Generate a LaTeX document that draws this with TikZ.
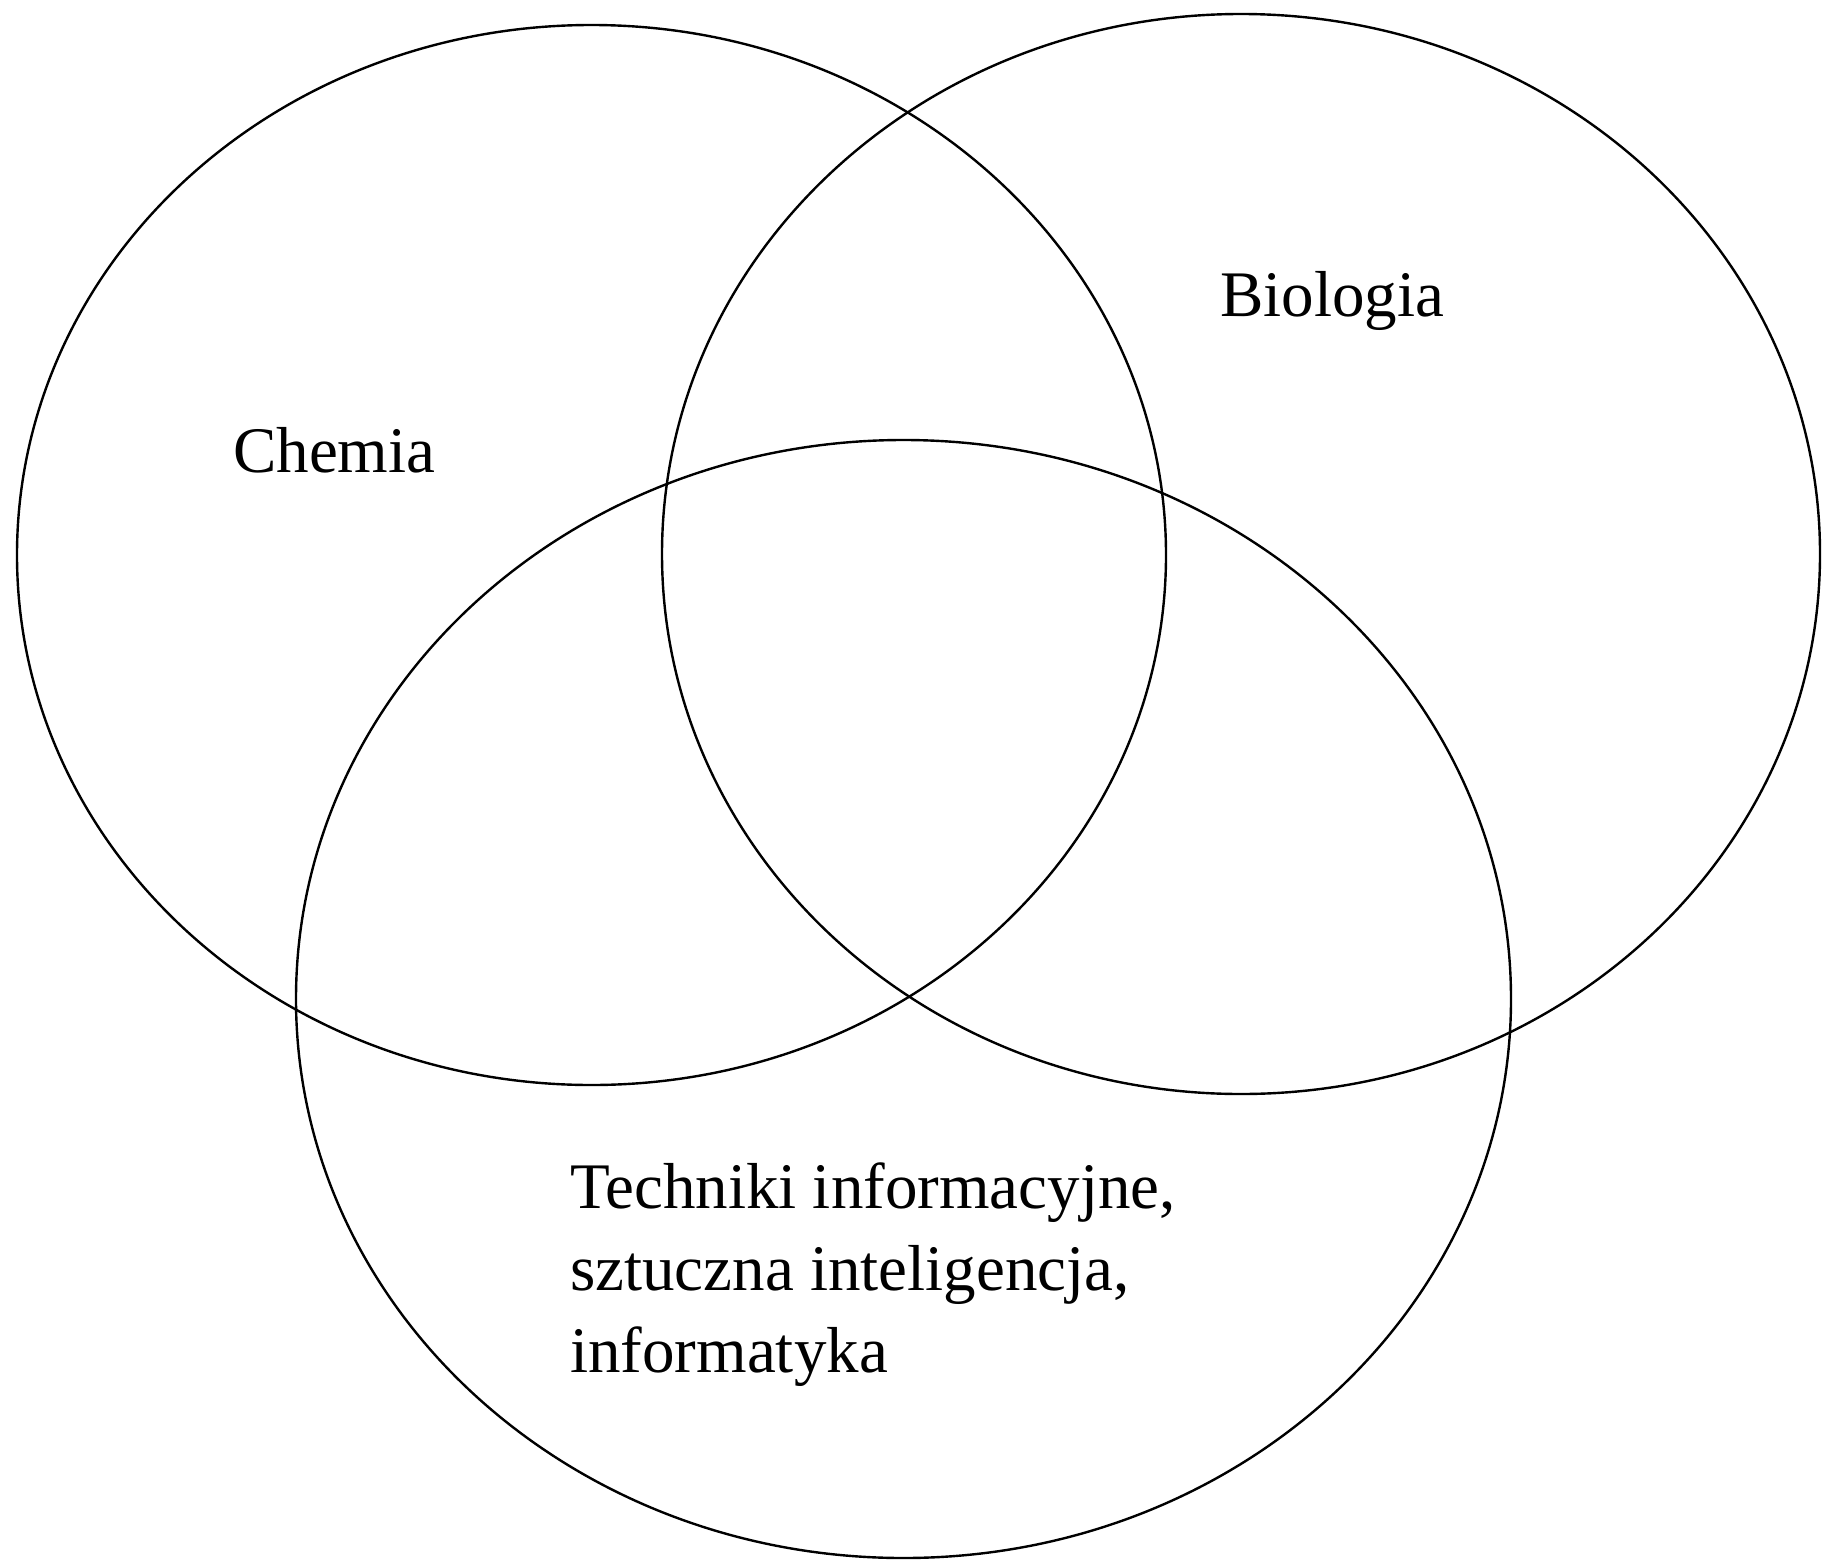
\documentclass[tikz,border=0pt]{standalone}
\usepackage{fontspec}
\setmainfont{Liberation Serif}

\tikzset{
  setring/.style={draw=black, line width=2.4pt},
  setlabel/.style={anchor=base west, inner sep=0pt, font=\fontsize{65}{82}\selectfont, align=left}
}

\begin{document}
\begin{tikzpicture}[x=1pt,y=1pt,yscale=-1,xscale=1]
		% Set diagram size to the reference (1822 x 1563)
		\useasboundingbox (0,0) rectangle (1822,1563);

		% Draw the left ellipse (Chemia)
		\draw[setring] (591.5,555) ellipse [x radius=574.5, y radius=530];

		% Draw the right ellipse (Biologia)
		\draw[setring] (1241,554) ellipse [x radius=579, y radius=540];

		% Draw the bottom ellipse (Techniki informacyjne)
		\draw[setring] (903.5,999) ellipse [x radius=607.5, y radius=559];

		% The set names (base of the last line at the given point)
		\node[setlabel] (chemia) at (233,472) {Chemia};
		\node[setlabel] (biologia) at (1220,316) {Biologia};
		\node[setlabel] (techniki) at (570,1372) {Techniki informacyjne,\\sztuczna inteligencja,\\informatyka};
	\end{tikzpicture}
\end{document}
